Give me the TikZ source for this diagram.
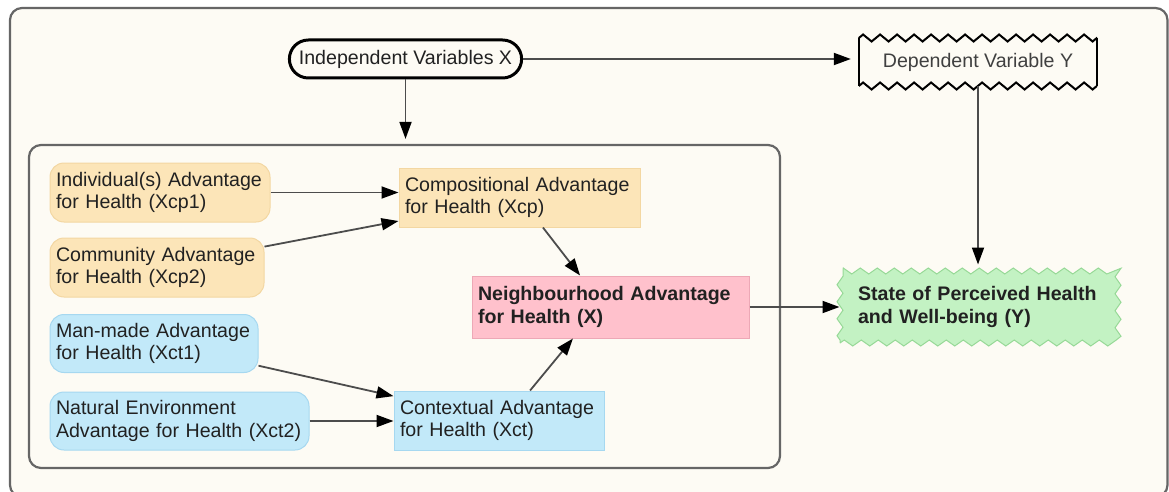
\documentclass[tikz,border=0pt]{standalone}
\usepackage{fontspec}
\setmainfont{Liberation Sans}
\usepackage{xcolor}
\usetikzlibrary{arrows.meta}
\usetikzlibrary{decorations.pathmorphing}
\usetikzlibrary{calc}
\definecolor{cream}{HTML}{FDFBF4}
\definecolor{peach}{HTML}{FCE5B8}
\definecolor{peachline}{HTML}{F3D7A2}
\definecolor{skyblue}{HTML}{C2E9F9}
\definecolor{skyline}{HTML}{A6D8F0}
\definecolor{rose}{HTML}{FFC1CC}
\definecolor{roseline}{HTML}{EDA8B6}
\definecolor{mint}{HTML}{C3F2C3}
\definecolor{mintline}{HTML}{97D997}
\definecolor{framegray}{HTML}{666666}
\tikzstyle{box}=[rectangle,inner xsep=6pt,inner ysep=0pt,align=left,line width=1pt,text=black!87,font=\fontsize{19.6}{22.5}\selectfont]
\tikzstyle{factor}=[box,rounded corners=14pt]
\tikzstyle{container}=[rectangle,draw=framegray,line width=2.2pt,rounded corners=12pt,minimum width=751pt,minimum height=323pt]
\tikzstyle{edge} = [draw,line width=1.8pt,black!70,-{Triangle[length=17pt,width=12pt,black]}]
\tikzstyle{zig} = [decorate,decoration={zigzag,segment length=17pt,amplitude=3.5pt}]

\begin{document}
\begin{tikzpicture}[x=1pt,y=-1pt]

  \useasboundingbox[fill=white] (0,0) rectangle (1169,492);
  \draw[framegray, fill=cream, line width=2.2pt, rounded corners=12pt] (10,8) rectangle (1167.5,497);

  \node[container] (panel) at (404.5,306.5) {};

  % factors on the left
  \foreach \x/\y/\tw/\name/\label in {160/192.5/208/ind/{Individual(s) Advantage\\for Health (Xcp1)},
                                       157/267.5/202/com/{Community Advantage\\for Health (Xcp2)}}
     \node[factor, fill=peach, draw=peachline, text width=\tw pt, minimum height=59pt] (\name) at (\x,\y) {\label};

  \foreach \x/\y/\tw/\name/\label in {154/343.5/196/man/{Man-made Advantage\\for Health (Xct1)},
                                       179.5/421/247/nat/{Natural Environment\\Advantage for Health (Xct2)}}
     \node[factor, fill=skyblue, draw=skyline, text width=\tw pt, minimum height=58pt] (\name) at (\x,\y) {\label};

  % grouped advantages
  \node[box, fill=peach, draw=peachline, text width=229pt, minimum height=59pt] (comp) at (519.5,197.5) {Compositional Advantage\\for Health (Xcp)};
  \node[box, fill=skyblue, draw=skyline, text width=198pt, minimum height=59pt] (ctx) at (499,420.5) {Contextual Advantage\\for Health (Xct)};
  \node[box, fill=rose, draw=roseline, text width=265pt, minimum height=62pt, font=\fontsize{19.6}{22.5}\selectfont\bfseries] (nbh) at (610.5,307) {Neighbourhood Advantage\\for Health (X)};

  % variables
  \node[box, draw=black, line width=3pt, rounded corners=19pt, inner xsep=9.5pt, minimum height=38pt] (indep) at (405.5,59) {Independent Variables X};
  \node[box, text=black!75, inner xsep=23.5pt, minimum height=47pt] (dep) at (978,62) {Dependent Variable Y};
  \draw[line width=2pt, zig] (dep.north west) -- (dep.north east);
  \draw[line width=2pt, zig] (dep.south west) -- (dep.south east);
  \draw[line width=2pt] (dep.north west) -- (dep.south west);
  \draw[line width=2pt] (dep.north east) -- (dep.south east);

  \node[box, fill=mint, draw=mintline, zig, decoration={amplitude=3pt}, inner xsep=18pt, text width=242pt, minimum height=72pt, font=\fontsize{19.6}{22.5}\selectfont\bfseries] (state) at (979,307) {State of Perceived Health\\and Well-being (Y)};

  % connectors
  \path[edge] (ind.east) -- (ind.east -| comp.west);
  \path[edge] (nat.east) -- (nat.east -| ctx.west);
  \foreach \source/\dest in {com.11/comp.191, man.-12/ctx.167, comp.-52/nbh.134, ctx.44/nbh.220, nbh.east/state.west}
         \path[edge] (\source) -- (\dest);

  \path[edge, shorten >=5pt] (indep.south) -- (indep.south |- panel.north);
  \path[edge, shorten >=8pt] (indep.east) -- (indep.east -| dep.west);
  \path[edge, shorten >=6pt] (dep.south) -- (dep.south |- state.north);

\end{tikzpicture}
\end{document}
